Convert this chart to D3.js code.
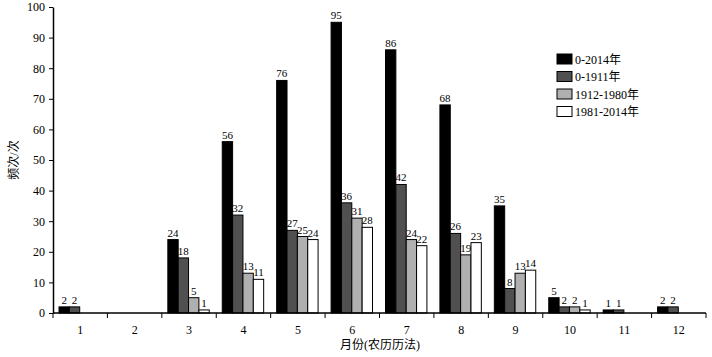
<!DOCTYPE html>
<html><head><meta charset="utf-8">
<script src="https://cdn.jsdelivr.net/npm/d3@7"></script>
<style>body{margin:0;background:#fff}</style>
</head><body><svg id="c" width="712" height="357"></svg>
<script>
const months = ["1","2","3","4","5","6","7","8","9","10","11","12"];
const seriesNames = ["0-2014年","0-1911年","1912-1980年","1981-2014年"];
const s0_2014 = [2,0,24,56,76,95,86,68,35,5,1,2];
const s0_1911 = [2,0,18,32,27,36,42,26,8,2,1,2];
const s1912_1980 = [0,0,5,13,25,31,24,19,13,2,0,0];
const s1981_2014 = [0,0,1,11,24,28,22,23,14,1,0,0];
const yTicks = [0,10,20,30,40,50,60,70,80,90,100];
const colors = ["#000000","#505050","#b0b0b0","#ffffff"];
const series = [s0_2014,s0_1911,s1912_1980,s1981_2014];
const FF = "'Liberation Serif','DejaVu Serif','Noto Sans CJK SC',serif";

const svg = d3.select("#c").attr("font-family",FF);
const m = {l:53, r:6, t:7, b:44};
const W = 712, H = 357;
const x = d3.scaleBand().domain(months).range([m.l, W-m.r]).paddingInner(0).paddingOuter(0);
const y = d3.scaleLinear().domain([0,100]).range([H-m.b, m.t]);
const inner = d3.scaleBand().domain(d3.range(4)).range([6, x.bandwidth()-7]).padding(0);

const g = svg.append("g");
months.forEach((mo,i)=>{
  series.forEach((s,j)=>{
    const v = s[i];
    if(v<=0) return;
    const bx = x(mo)+inner(j);
    g.append("rect").attr("x",bx).attr("y",y(v)).attr("width",inner.bandwidth()).attr("height",y(0)-y(v))
      .attr("fill",colors[j]).attr("stroke","#000").attr("stroke-width",1);
    g.append("text").attr("x",bx+inner.bandwidth()/2).attr("y",y(v)-3).attr("text-anchor","middle")
      .attr("font-family",FF).attr("font-size",11).text(v);
  });
});

// y axis
const ya = svg.append("g").attr("transform",`translate(${m.l},0)`)
  .call(d3.axisLeft(y).tickValues(yTicks).tickSize(4).tickSizeOuter(0));
ya.attr("font-family",FF);
ya.select(".domain").attr("stroke","#000").attr("stroke-width",1.5);
ya.selectAll("text").attr("font-size",12).attr("fill","#000").attr("dx","-1");

// x axis
const xa = svg.append("g").attr("transform",`translate(0,${y(0)})`);
xa.append("line").attr("x1",m.l).attr("x2",W-m.r).attr("stroke","#000").attr("stroke-width",1.5);
months.forEach((mo,i)=>{
  xa.append("line").attr("x1",x(mo)).attr("x2",x(mo)).attr("y1",0).attr("y2",5).attr("stroke","#000");
  xa.append("text").attr("x",x(mo)+x.bandwidth()/2).attr("y",21).attr("text-anchor","middle")
    .attr("font-family",FF).attr("font-size",12).text(mo);
});
xa.append("line").attr("x1",W-m.r).attr("x2",W-m.r).attr("y1",0).attr("y2",5).attr("stroke","#000");

svg.append("text").attr("x",380).attr("y",349).attr("text-anchor","middle").attr("font-family",FF).attr("font-size",12).text("月份(农历历法)");
svg.append("text").attr("transform","translate(18,160) rotate(-90)").attr("text-anchor","middle").attr("font-family",FF).attr("font-size",12).text("频次/次");

// legend
const lg = svg.append("g").attr("transform","translate(557,54)");
seriesNames.forEach((n,i)=>{
  const r = lg.append("g").attr("transform",`translate(0,${i*17.5})`);
  r.append("rect").attr("width",15).attr("height",10).attr("fill",colors[i]).attr("stroke","#000");
  r.append("text").attr("x",18).attr("y",9.5).attr("font-family",FF).attr("font-size",12).text(n);
});
</script></body></html>
